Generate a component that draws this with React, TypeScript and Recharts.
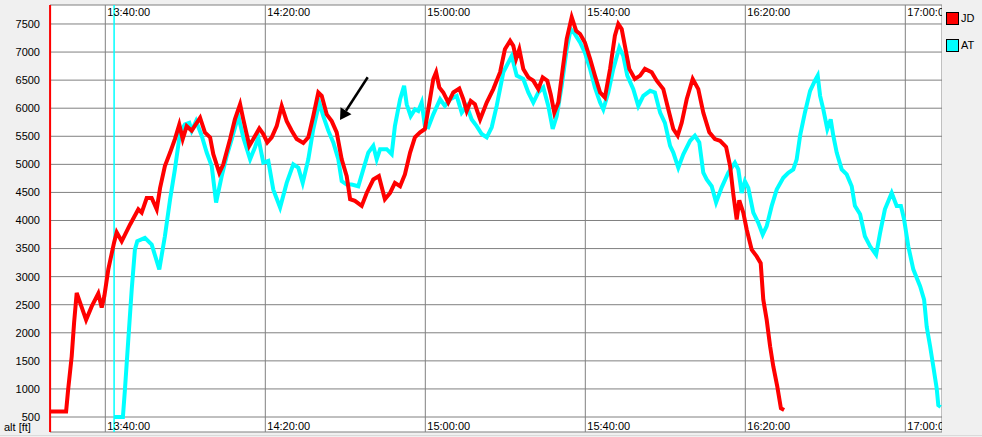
import React from 'react';
import {
  LineChart,
  Line,
  XAxis,
  YAxis,
  CartesianGrid,
  ReferenceLine,
  Legend,
  Label,
} from 'recharts';

// time axis is in minutes after 13:00
const timeTicks = [40, 80, 120, 160, 200, 240];
const altTicks = [500, 1000, 1500, 2000, 2500, 3000, 3500, 4000, 4500, 5000, 5500, 6000, 6500, 7000, 7500];

const jdTime = [
  26.2, 30.2, 30.7, 31.6, 32.2, 32.85, 35.2, 36.6, 38.25, 39.1,
  39.75, 40.75, 42.2, 42.85, 44.1, 46.2, 48.25, 49.1, 50.35, 51.6,
  52.85, 53.7, 54.9, 56.2, 57.4, 58.5, 59.35, 60.35, 61.6, 63.7,
  64.9, 66.2, 67.0, 68.5, 69.5, 71.2, 72.4, 73.7, 74.5, 76.0,
  77.0, 78.5, 79.5, 80.5, 81.6, 82.85, 84.1, 85.35, 86.6, 87.85,
  89.5, 90.75, 92.0, 93.25, 94.1, 95.35, 96.6, 97.85, 99.1, 100.35,
  101.2, 102.4, 104.1, 105.35, 107.0, 108.4, 109.9, 111.2, 112.4, 113.7,
  114.9, 116.2, 117.4, 118.7, 119.9, 120.75, 122.0, 122.7, 123.5, 124.5,
  125.75, 127.0, 128.5, 129.5, 130.35, 131.35, 132.4, 133.7, 135.35, 137.0,
  138.7, 139.9, 141.2, 142.0, 142.7, 143.5, 144.5, 145.75, 147.0, 148.25,
  149.35, 150.5, 151.35, 152.25, 153.25, 154.35, 155.35, 156.6, 157.7, 158.7,
  159.9, 161.2, 162.4, 163.7, 164.9, 166.2, 167.4, 168.25, 169.1, 169.9,
  171.0, 172.4, 173.7, 174.9, 176.6, 177.85, 179.5, 180.75, 182.0, 183.1,
  184.1, 185.35, 186.85, 188.25, 189.5, 191.0, 192.4, 193.7, 195.2, 196.2,
  197.0, 197.85, 198.5, 199.5, 200.35, 201.6, 202.85, 203.85, 204.5, 205.35,
  206.2, 207.0, 208.0, 208.9, 209.7,
];
const jdAlt = [
  600, 600, 980, 1580, 2180, 2710, 2230, 2470, 2700, 2450,
  2650, 3130, 3610, 3790, 3630, 3930, 4200, 4140, 4400, 4400,
  4200, 4580, 4970, 5210, 5450, 5710, 5450, 5680, 5600, 5830,
  5570, 5480, 5180, 4850, 5000, 5450, 5800, 6070, 5800, 5330,
  5450, 5640, 5540, 5390, 5480, 5680, 6040, 5770, 5600, 5450,
  5380, 5480, 5860, 6280, 6220, 5890, 5770, 5570, 5090, 4790,
  4380, 4350, 4260, 4490, 4730, 4790, 4380, 4490, 4670, 4610,
  4820, 5210, 5480, 5570, 5630, 5980, 6520, 6640, 6370, 6280,
  6100, 6280, 6350, 6160, 5950, 6130, 6070, 5800, 6100, 6340,
  6640, 7050, 7200, 7110, 6880, 7050, 6700, 6550, 6490, 6340,
  6550, 6490, 6250, 5920, 6100, 6700, 7230, 7620, 7380, 7320,
  7170, 6880, 6580, 6280, 6190, 6700, 7290, 7500, 7410, 7110,
  6700, 6520, 6580, 6700, 6640, 6490, 6340, 5980, 5630, 5510,
  5740, 6160, 6520, 6340, 5920, 5570, 5450, 5420, 5310, 4970,
  4470, 4020, 4360, 4140, 3840, 3480, 3360, 3240, 2590, 2230,
  1760, 1400, 1040, 655, 625,
];

const atTime = [
  42.2, 44.4, 44.9, 45.75, 46.6, 47.4, 48.0, 49.9, 51.6, 53.5,
  54.9, 56.2, 57.4, 58.7, 59.9, 61.0, 61.6, 62.7, 64.1, 65.35,
  66.6, 67.7, 69.1, 70.35, 71.6, 73.25, 74.5, 76.2, 77.4, 78.25,
  79.5, 80.75, 82.0, 83.7, 85.35, 87.0, 88.25, 89.35, 90.75, 92.0,
  93.5, 94.5, 95.75, 97.0, 98.25, 99.1, 100.35, 101.6, 103.25, 104.5,
  105.75, 107.0, 107.85, 108.7, 110.35, 111.6, 112.4, 113.7, 114.7, 115.35,
  116.35, 117.4, 118.25, 119.1, 119.9, 120.75, 122.0, 123.7, 124.9, 126.2,
  127.85, 129.1, 130.35, 131.6, 132.85, 134.1, 135.35, 136.6, 137.85, 139.5,
  141.6, 142.85, 144.5, 145.75, 147.0, 148.25, 149.5, 150.75, 151.85, 152.85,
  154.1, 155.35, 156.35, 157.4, 158.7, 159.9, 161.2, 162.4, 163.7, 164.5,
  165.75, 167.0, 168.5, 169.5, 170.5, 172.0, 173.25, 174.5, 176.2, 177.4,
  178.7, 179.9, 181.2, 182.0, 183.25, 184.5, 186.2, 187.4, 188.5, 189.5,
  190.35, 191.6, 192.7, 194.1, 195.75, 197.4, 198.25, 199.1, 199.9, 200.75,
  202.0, 203.25, 204.35, 205.35, 206.6, 207.85, 209.5, 210.75, 212.0, 212.85,
  213.7, 214.9, 216.2, 217.4, 218.1, 218.7, 219.5, 220.5, 221.35, 222.0,
  222.85, 224.1, 225.35, 226.6, 227.4, 228.7, 229.9, 231.2, 232.7, 233.7,
  234.9, 236.6, 237.85, 238.9, 239.7, 240.75, 242.0, 243.7, 244.7, 245.35,
  246.2, 247.0, 247.85, 248.25, 248.85,
];
const atAlt = [
  500, 500, 980, 1880, 2770, 3480, 3630, 3690, 3570, 3130,
  3720, 4380, 4910, 5570, 5710, 5740, 5600, 5770, 5510, 5210,
  4970, 4320, 4790, 5150, 5450, 5860, 5480, 5090, 5300, 5480,
  5030, 5060, 4550, 4230, 4670, 5000, 4940, 4670, 5090, 5630,
  6100, 5860, 5600, 5390, 5090, 4700, 4640, 4640, 4610, 4910,
  5210, 5330, 5090, 5270, 5270, 5180, 5680, 6160, 6400, 6070,
  5860, 5980, 5950, 6100, 5680, 5660, 5890, 6160, 6040, 6160,
  6220, 5920, 6040, 5800, 5680, 5540, 5480, 5660, 6040, 6640,
  6930, 6580, 6520, 6280, 6100, 6280, 6370, 6040, 5630, 5860,
  6400, 7050, 7410, 7320, 7170, 6990, 6700, 6370, 6100, 5980,
  6280, 6700, 7080, 6930, 6580, 6340, 6040, 6220, 6310, 6280,
  5920, 5740, 5330, 5210, 4940, 5180, 5420, 5510, 5390, 4850,
  4730, 4610, 4320, 4590, 4850, 5030, 4910, 4490, 4700, 4580,
  4140, 3960, 3750, 3900, 4260, 4550, 4760, 4850, 4910, 5090,
  5510, 5920, 6310, 6490, 6580, 6220, 5980, 5630, 5800, 5510,
  5210, 4910, 4820, 4610, 4260, 4110, 3720, 3540, 3390, 3780,
  4200, 4490, 4260, 4260, 4020, 3540, 3130, 2830, 2590, 2110,
  1760, 1400, 1010, 710, 680,
];

// annotation arrow (start -> tip), in data units
const arrowSegment = [
  { x: 105.6, y: 6551 },
  { x: 98.675, y: 5790 },
];

const series = [
  { name: 'JD', color: '#ff0000' },
  { name: 'AT', color: '#00ffff' },
];

const jdData = jdTime.map((t, i) => ({ t, alt: jdAlt[i] }));
const atData = atTime.map((t, i) => ({ t, alt: atAlt[i] }));

const pad = (n: number) => String(n).padStart(2, '0');
const fmtTime = (m: number) => `${13 + Math.floor(m / 60)}:${pad(m % 60)}:00`;

// each time tick is printed twice: along the top and along the bottom of the plot
const TimeTick = ({ x, payload }: any) => (
  <g>
    <text x={x + 2} y={16} fontSize={11} fill="#000">
      {fmtTime(payload.value)}
    </text>
    <text x={x + 2} y={430} fontSize={11} fill="#000">
      {fmtTime(payload.value)}
    </text>
  </g>
);

const ArrowShape = (props: any) => {
  const { x1, y1, x2, y2 } = props;
  const dx = x2 - x1;
  const dy = y2 - y1;
  const len = Math.hypot(dx, dy) || 1;
  const ux = dx / len;
  const uy = dy / len;
  const bx = x2 - ux * 11;
  const by = y2 - uy * 11;
  const px = -uy * 6.5;
  const py = ux * 6.5;
  return (
    <g>
      <line x1={x1} y1={y1} x2={bx} y2={by} stroke="#000" strokeWidth={2.5} />
      <polygon points={`${x2},${y2} ${bx + px},${by + py} ${bx - px},${by - py}`} fill="#000" />
    </g>
  );
};

const LegendBox = () => (
  <div style={{ position: 'relative', width: 40, height: 437 }}>
    {series.map((s, i) => (
      <div
        key={s.name}
        style={{ position: 'absolute', left: 4, top: 12 + i * 26.5, display: 'flex', alignItems: 'center' }}
      >
        <span
          style={{ display: 'inline-block', width: 11, height: 11, border: '1px solid #000', background: s.color }}
        />
        <span style={{ marginLeft: 2, fontSize: 11, lineHeight: '13px', color: '#000' }}>{s.name}</span>
      </div>
    ))}
  </div>
);

export default function App() {
  return (
    <div
      style={{
        position: 'absolute',
        left: 0,
        top: 0,
        width: 982,
        height: 437,
        background: '#f0f0f0',
        fontFamily: '"Liberation Sans", Arial, sans-serif',
      }}
    >
      <LineChart width={982} height={437} margin={{ top: 5, right: 40, bottom: 4, left: 0 }}>
        <CartesianGrid fill="#ffffff" stroke="#808080" strokeWidth={1} />
        <XAxis
          type="number"
          dataKey="t"
          domain={[26.175, 249.175]}
          ticks={timeTicks}
          interval={0}
          height={1}
          axisLine={false}
          tickLine={false}
          tick={TimeTick}
          allowDataOverflow
        />
        <YAxis
          type="number"
          domain={[233, 7838]}
          ticks={altTicks}
          interval={0}
          width={50}
          axisLine={false}
          tickLine={false}
          tickSize={0}
          tickMargin={10}
          tick={{ fontSize: 11, fill: '#000' }}
          allowDataOverflow
        >
          <Label
            content={() => (
              <text x={4} y={431} fontSize={11} fill="#000">
                alt [ft]
              </text>
            )}
          />
        </YAxis>
        <ReferenceLine x={jdTime[0]} stroke="#ff0000" strokeWidth={2} />
        <ReferenceLine x={atTime[0]} stroke="#00ffff" strokeWidth={1.5} />
        <Line
          data={atData}
          dataKey="alt"
          name="AT"
          type="linear"
          stroke="#00ffff"
          strokeWidth={4}
          dot={false}
          activeDot={false}
          isAnimationActive={false}
        />
        <Line
          data={jdData}
          dataKey="alt"
          name="JD"
          type="linear"
          stroke="#ff0000"
          strokeWidth={4}
          dot={false}
          activeDot={false}
          isAnimationActive={false}
        />
        <ReferenceLine segment={arrowSegment} shape={ArrowShape} />
        <Legend
          layout="vertical"
          align="center"
          verticalAlign="middle"
          width={40}
          height={437}
          content={LegendBox}
          wrapperStyle={{ left: 942, top: 0, background: '#f0f0f0' }}
        />
      </LineChart>
      <div style={{ position: 'absolute', left: 0, top: 435, width: 982, height: 1, background: '#dadada' }} />
    </div>
  );
}
